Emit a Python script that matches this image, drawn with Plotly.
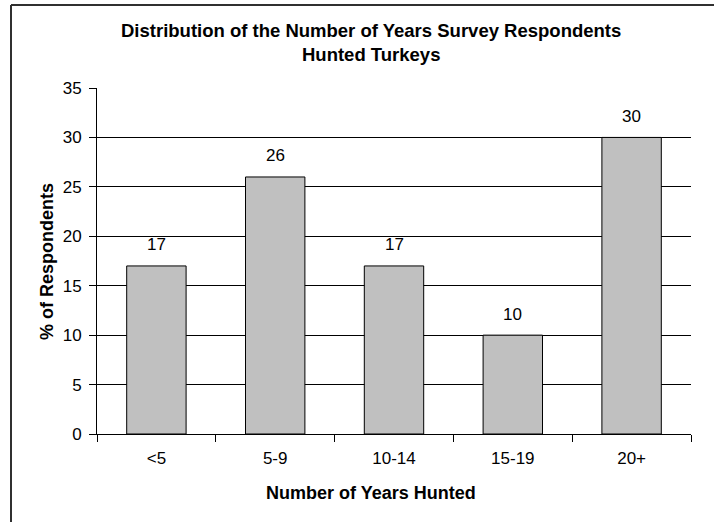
import plotly.graph_objects as go

categories = ["<5", "5-9", "10-14", "15-19", "20+"]
values = [17, 26, 17, 10, 30]
y_ticks = [0, 5, 10, 15, 20, 25, 30, 35]

FONT = "Liberation Sans"
W, H = 714, 522
L, R, T, B = 97, 691, 88, 434
pw, ph = R - L, B - T

def px(x):
    return (x - L) / pw

def py(y):
    return (B - y) / ph

fig = go.Figure()
fig.add_trace(go.Bar(
    x=categories, y=values,
    marker=dict(color="#C0C0C0", line=dict(color="black", width=1)),
    width=0.5, hoverinfo="skip",
))

bar_labels = [dict(x=c, y=v, text=str(v), xref="x", yref="y", showarrow=False,
                   xanchor="center", yanchor="middle", yshift=21,
                   font=dict(family=FONT, size=17, color="black"))
              for c, v in zip(categories, values)]

fig.update_layout(
    width=W, height=H,
    margin=dict(l=L, r=W - R, t=T, b=H - B),
    paper_bgcolor="white", plot_bgcolor="white",
    showlegend=False,
    font=dict(family=FONT, size=17, color="black"),
    xaxis=dict(
        type="category", showline=True, linecolor="black", linewidth=1,
        ticks="outside", ticklen=7, tickcolor="black", tickson="boundaries",
        showgrid=False, ticklabelstandoff=9,
        tickfont=dict(family=FONT, size=17, color="black"),
    ),
    yaxis=dict(
        range=[0, 35], tickvals=y_ticks, showline=True, linecolor="black", linewidth=1,
        ticks="outside", ticklen=7, tickcolor="black",
        showgrid=True, gridcolor="black", gridwidth=1, zeroline=False,
        ticklabelstandoff=4,
        tickfont=dict(family=FONT, size=17, color="black"),
    ),
    annotations=bar_labels + [
        dict(text="<b>Distribution of the Number of Years Survey Respondents</b>",
             xref="paper", yref="paper", x=px(371), y=py(31), showarrow=False,
             xanchor="center", yanchor="middle", font=dict(family=FONT, size=18.5)),
        dict(text="<b>Hunted Turkeys</b>",
             xref="paper", yref="paper", x=px(371), y=py(55), showarrow=False,
             xanchor="center", yanchor="middle", font=dict(family=FONT, size=18.5)),
        dict(text="<b>Number of Years Hunted</b>",
             xref="paper", yref="paper", x=px(371), y=py(493), showarrow=False,
             xanchor="center", yanchor="middle", font=dict(family=FONT, size=18)),
        dict(text="<b>% of Respondents</b>", textangle=-90,
             xref="paper", yref="paper", x=px(47), y=py(262), showarrow=False,
             xanchor="center", yanchor="middle", font=dict(family=FONT, size=18)),
    ],
    shapes=[
        dict(type="line", xref="paper", yref="paper",
             x0=px(11), x1=px(714), y0=py(5), y1=py(5),
             line=dict(color="#303030", width=2), layer="above"),
        dict(type="line", xref="paper", yref="paper",
             x0=px(11), x1=px(11), y0=py(5), y1=py(522),
             line=dict(color="#303030", width=2), layer="above"),
    ],
)

fig.write_html("out.html", config={"displayModeBar": False},
               post_script="document.body.style.margin='0';")
